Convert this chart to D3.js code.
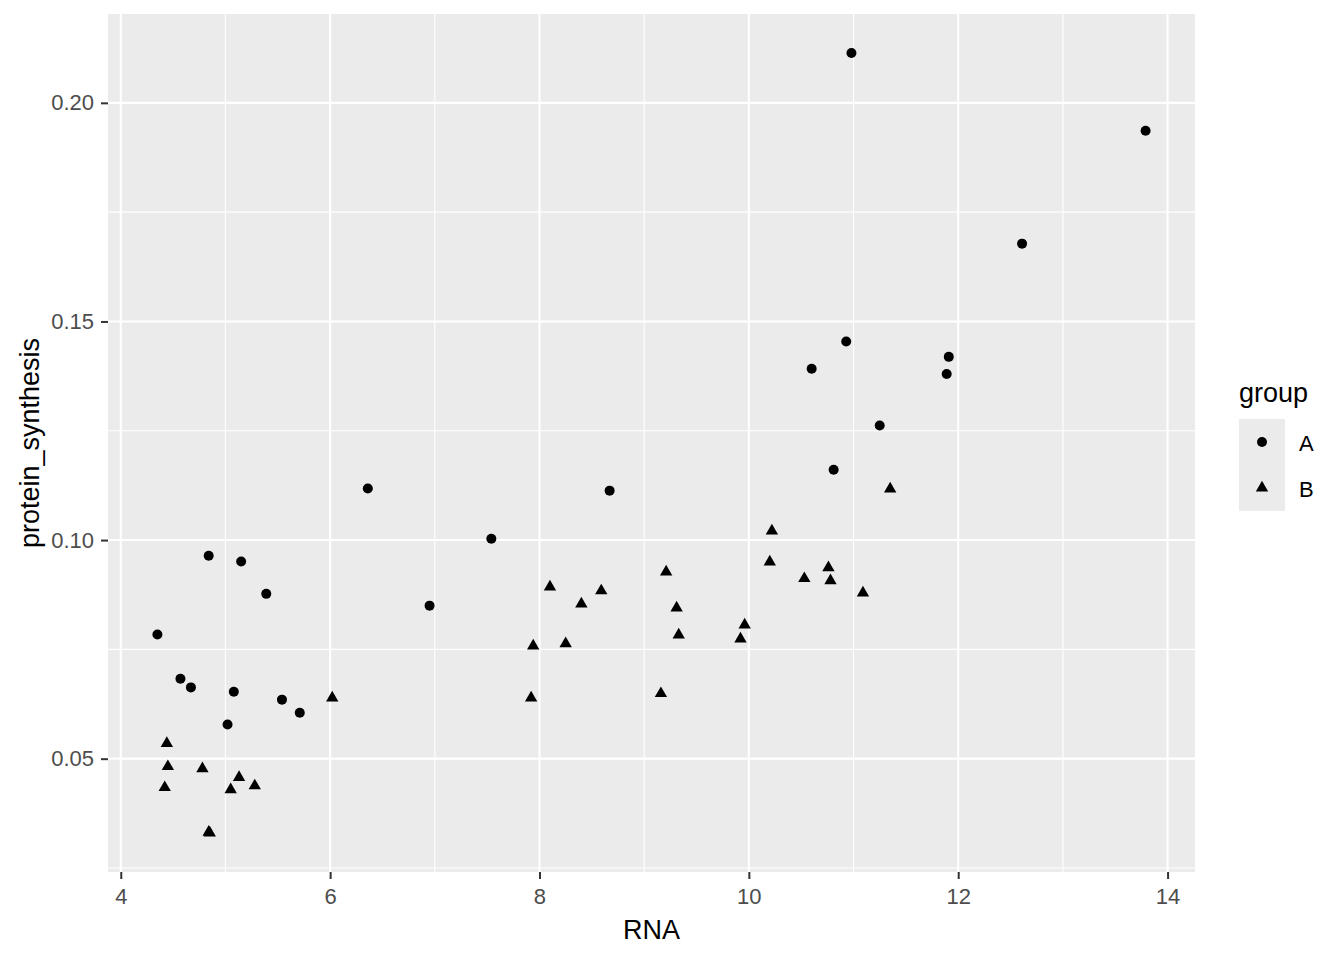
<!DOCTYPE html>
<html>
<head>
<meta charset="utf-8">
<script src="https://cdn.jsdelivr.net/npm/d3@7"></script>
<style>
  body { margin: 0; background: #fff; }
  text { font-family: "Liberation Sans", Arial, sans-serif; }
</style>
</head>
<body>
<svg width="1344" height="960"></svg>
<script>
// group A (circles)
const rnaA = [4.35, 4.57, 4.67, 4.84, 5.15, 5.08, 5.02, 5.39, 5.54, 5.71, 6.36, 6.95,
  7.54, 8.67, 10.60, 10.93, 10.81, 10.98, 11.25, 11.89, 11.91, 12.61, 13.79];
const proteinA = [0.0784, 0.0683, 0.0663, 0.0964, 0.0951, 0.0653, 0.0578, 0.0877, 0.0635, 0.0605, 0.1118, 0.0850,
  0.1003, 0.1113, 0.1392, 0.1454, 0.1161, 0.2114, 0.1262, 0.1380, 0.1419, 0.1678, 0.1936];

// group B (triangles)
const rnaB = [6.02, 4.44, 4.45, 4.78, 5.13, 5.28, 4.42, 5.05, 4.84, 4.85,
  8.10, 8.59, 8.40, 7.94, 8.25, 7.92, 9.21, 9.31, 9.33, 9.16,
  10.22, 10.20, 10.53, 9.96, 9.92, 11.35, 10.76, 10.78, 11.09];
const proteinB = [0.0639, 0.0535, 0.0482, 0.0477, 0.0457, 0.0438, 0.0434, 0.0429, 0.0332, 0.0330,
  0.0893, 0.0884, 0.0854, 0.0758, 0.0763, 0.0639, 0.0927, 0.0845, 0.0783, 0.0649,
  0.1021, 0.0950, 0.0912, 0.0806, 0.0774, 0.1117, 0.0937, 0.0907, 0.0879];

const xTicks = [4, 6, 8, 10, 12, 14];
const xMinor = [5, 7, 9, 11, 13];
const yTicks = [0.05, 0.10, 0.15, 0.20];
const yMinor = [0.025, 0.075, 0.125, 0.175];
const groups = ['A', 'B'];

const data = [
  ...rnaA.map((d, i) => ({rna: d, protein: proteinA[i], group: 'A'})),
  ...rnaB.map((d, i) => ({rna: d, protein: proteinB[i], group: 'B'}))
];

const svg = d3.select('svg');
const panel = {left: 108, right: 1195, top: 14, bottom: 872};

// ggplot style 5% expansion
const expand = ext => {
  const pad = (ext[1] - ext[0]) * 0.05;
  return [ext[0] - pad, ext[1] + pad];
};

const x = d3.scaleLinear()
  .domain(expand(d3.extent(data, d => d.rna)))
  .range([panel.left, panel.right]);

const y = d3.scaleLinear()
  .domain(expand(d3.extent(data, d => d.protein)))
  .range([panel.bottom, panel.top]);

svg.append('rect')
  .attr('x', panel.left)
  .attr('y', panel.top)
  .attr('width', panel.right - panel.left)
  .attr('height', panel.bottom - panel.top)
  .attr('fill', '#ebebeb');

const grid = svg.append('g').attr('stroke', '#fff');

grid.selectAll('.minor-x')
  .data(xMinor)
  .enter().append('line')
    .attr('x1', d => x(d)).attr('x2', d => x(d))
    .attr('y1', panel.top).attr('y2', panel.bottom)
    .attr('stroke-width', 1.1);

grid.selectAll('.minor-y')
  .data(yMinor.filter(d => y(d) <= panel.bottom && y(d) >= panel.top))
  .enter().append('line')
    .attr('x1', panel.left).attr('x2', panel.right)
    .attr('y1', d => y(d)).attr('y2', d => y(d))
    .attr('stroke-width', 1.1);

grid.selectAll('.major-x')
  .data(xTicks)
  .enter().append('line')
    .attr('x1', d => x(d)).attr('x2', d => x(d))
    .attr('y1', panel.top).attr('y2', panel.bottom)
    .attr('stroke-width', 2.1);

grid.selectAll('.major-y')
  .data(yTicks)
  .enter().append('line')
    .attr('x1', panel.left).attr('x2', panel.right)
    .attr('y1', d => y(d)).attr('y2', d => y(d))
    .attr('stroke-width', 2.1);

// axes
const xAxis = svg.append('g')
  .attr('transform', `translate(0,${panel.bottom})`)
  .call(d3.axisBottom(x).tickValues(xTicks).tickSize(7).tickPadding(9).tickFormat(d3.format('d')));

const yAxis = svg.append('g')
  .attr('transform', `translate(${panel.left},0)`)
  .call(d3.axisLeft(y).tickValues(yTicks).tickSize(7).tickPadding(7).tickFormat(d3.format('.2f')));

[xAxis, yAxis].forEach(a => {
  a.select('.domain').remove();
  a.selectAll('.tick line').attr('stroke', '#333').attr('stroke-width', 2);
  a.selectAll('.tick text')
    .attr('fill', '#4d4d4d')
    .style('font-size', '22px')
    .style('font-family', '"Liberation Sans", Arial, sans-serif');
});

svg.append('text')
  .attr('x', (panel.left + panel.right) / 2)
  .attr('y', 939)
  .attr('text-anchor', 'middle')
  .style('font-size', '27px')
  .text('RNA');

svg.append('text')
  .attr('transform', `translate(39,${(panel.top + panel.bottom) / 2}) rotate(-90)`)
  .attr('text-anchor', 'middle')
  .style('font-size', '27px')
  .text('protein_synthesis');

// points
const triangle = d3.symbol().type(d3.symbolTriangle).size(66);

svg.append('g')
  .selectAll('circle')
  .data(data.filter(d => d.group === 'A'))
  .enter().append('circle')
    .attr('cx', d => x(d.rna))
    .attr('cy', d => y(d.protein))
    .attr('r', 5)
    .attr('fill', '#000');

svg.append('g')
  .selectAll('path')
  .data(data.filter(d => d.group === 'B'))
  .enter().append('path')
    .attr('transform', d => `translate(${x(d.rna)},${y(d.protein)})`)
    .attr('d', triangle)
    .attr('fill', '#000');

// legend
const legend = svg.append('g').attr('transform', 'translate(1239,419)');

legend.append('text')
  .attr('x', 0)
  .attr('y', -17)
  .style('font-size', '27px')
  .text('group');

const key = legend.selectAll('.key')
  .data(groups)
  .enter().append('g')
    .attr('transform', (d, i) => `translate(0,${i * 46})`);

key.append('rect')
  .attr('width', 46)
  .attr('height', 46)
  .attr('fill', '#ebebeb');

key.filter(d => d === 'A').append('circle')
  .attr('cx', 23).attr('cy', 23).attr('r', 5).attr('fill', '#000');

key.filter(d => d === 'B').append('path')
  .attr('transform', 'translate(23,23)')
  .attr('d', triangle)
  .attr('fill', '#000');

key.append('text')
  .attr('x', 60)
  .attr('y', 24)
  .attr('dy', '0.36em')
  .style('font-size', '22px')
  .text(d => d);
</script>
</body>
</html>
